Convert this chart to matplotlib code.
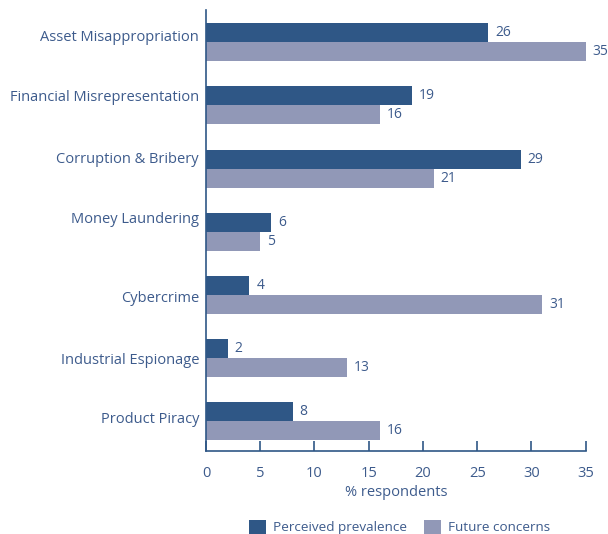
import numpy as np
import matplotlib.pyplot as plt

categories = ['Asset Misappropriation', 'Financial Misrepresentation', 'Corruption & Bribery',
              'Money Laundering', 'Cybercrime', 'Industrial Espionage', 'Product Piracy']
perceived = [26, 19, 29, 6, 4, 2, 8]
future = [35, 16, 21, 5, 31, 13, 16]
x_ticks = [0, 5, 10, 15, 20, 25, 30, 35]

# the category labels sit a little off the group centre in the original
label_shift = [-0.11, -0.16, -0.17, -0.22, 0.03, 0.0, -0.06]

dark = '#2F5786'
light = '#9198B7'
txt = '#3D5B8C'

plt.rcParams['font.family'] = ['Open Sans', 'DejaVu Sans']

fig = plt.figure(figsize=(6.08, 5.34), dpi=100)
ax = fig.add_axes([0.3388, 0.1554, 0.6245, 0.8259])

y = np.arange(len(categories))
h = 0.30
b1 = ax.barh(y - h / 2, perceived, height=h, color=dark, label='Perceived prevalence')
b2 = ax.barh(y + h / 2, future, height=h, color=light, label='Future concerns')

for bars, vals in [(b1, perceived), (b2, future)]:
    for bar, v in zip(bars, vals):
        ax.annotate(str(v), (v, bar.get_y() + bar.get_height() / 2), xytext=(5, 0),
                    textcoords='offset points', va='center', ha='left', fontsize=10, color=txt)

ax.set_ylim(6.47, -0.51)
ax.set_xlim(0, 35)
ax.set_yticks(y + np.array(label_shift))
ax.set_yticklabels(categories, fontsize=10.5, color=txt)
ax.set_xticks(x_ticks)
ax.set_xticklabels([str(t) for t in x_ticks], fontsize=10.5, color=txt)
ax.tick_params(axis='y', length=0, pad=5)
ax.tick_params(axis='x', direction='in', length=7, width=1.2, color=dark, pad=10.5)
ax.set_xlabel('% respondents', fontsize=10.5, color=txt, labelpad=3)

for s in ['top', 'right']:
    ax.spines[s].set_visible(False)
for s in ['left', 'bottom']:
    ax.spines[s].set_color(dark)
    ax.spines[s].set_linewidth(1.2)

leg = fig.legend(handles=[b1, b2], loc='center', bbox_to_anchor=(0.657, 0.013), ncol=2,
                 frameon=False, fontsize=9.7, handlelength=1.25, handleheight=1.25,
                 columnspacing=1.3, handletextpad=0.5)
for t in leg.get_texts():
    t.set_color(txt)

fig.savefig('out.png', dpi=100)
